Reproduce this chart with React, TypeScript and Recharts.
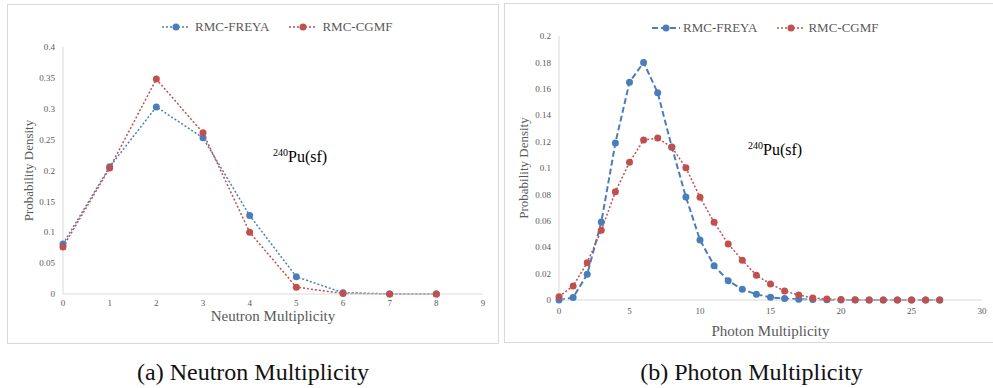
import React from 'react';
import { LineChart, Line, XAxis, YAxis, Legend, Label } from 'recharts';

// ---------- data ----------
const neutronMult = [0, 1, 2, 3, 4, 5, 6, 7, 8];
const neutronFreya = [0.081, 0.206, 0.303, 0.253, 0.127, 0.028, 0.002, 0.0002, 0.0];
const neutronCgmf = [0.076, 0.204, 0.348, 0.261, 0.1, 0.011, 0.001, 0.0001, 0.0];
const neutronXTicks = [0, 1, 2, 3, 4, 5, 6, 7, 8, 9];
const neutronYTicks = [0, 0.05, 0.1, 0.15, 0.2, 0.25, 0.3, 0.35, 0.4];

const photonMult = [0, 1, 2, 3, 4, 5, 6, 7, 8, 9, 10, 11, 12, 13, 14, 15, 16, 17, 18, 19, 20, 21, 22, 23, 24, 25, 26, 27];
const photonFreya = [0.0, 0.0018, 0.0195, 0.059, 0.119, 0.165, 0.18, 0.157, 0.116, 0.078, 0.0455, 0.026, 0.0146, 0.0081, 0.0043, 0.002, 0.0011, 0.0006, 0.0003, 0.0001, 0, 0, 0, 0, 0, 0, 0, 0];
const photonCgmf = [0.0025, 0.0106, 0.0283, 0.0528, 0.082, 0.1043, 0.1212, 0.1227, 0.1157, 0.1002, 0.0778, 0.0589, 0.0424, 0.0301, 0.0187, 0.0121, 0.0068, 0.0038, 0.0015, 0.0008, 0.0003, 0.0001, 0, 0, 0, 0, 0, 0];
const photonXTicks = [0, 5, 10, 15, 20, 25, 30];
const photonYTicks = [0, 0.02, 0.04, 0.06, 0.08, 0.1, 0.12, 0.14, 0.16, 0.18, 0.2];

const seriesNames = ['RMC-FREYA', 'RMC-CGMF'];
const captions = ['(a) Neutron Multiplicity', '(b) Photon Multiplicity'];
const xTitles = ['Neutron Multiplicity', 'Photon Multiplicity'];
const yTitle = 'Probability Density';

// ---------- styles ----------
const FONT = '"Liberation Serif"';
const GRAY = '#595959';
const AXIS = '#d9d9d9';
const BLUE = '#4a7ebb';
const RED = '#c0504d';

const neutronData = neutronMult.map((x, i) => ({ x, freya: neutronFreya[i], cgmf: neutronCgmf[i] }));
const photonData = photonMult.map((x, i) => ({ x, freya: photonFreya[i], cgmf: photonCgmf[i] }));

type LegendItem = { name: string; color: string; dash: string; width: number };

const LegendIcon = ({ color, dash, width }: LegendItem) => (
  <svg width={28} height={10} style={{ display: 'block' }}>
    <line x1={0} y1={5} x2={28} y2={5} stroke={color} strokeWidth={width} strokeDasharray={dash} />
    <circle cx={14} cy={5} r={3.5} fill={color} />
  </svg>
);

const makeLegend = (items: LegendItem[], padLeft: number, textGap: number) => () => (
  <div style={{ display: 'flex', alignItems: 'center', height: 20, paddingLeft: padLeft, fontFamily: FONT, fontSize: 13, color: GRAY }}>
    {items.map((it, i) => (
      <div key={it.name} style={{ display: 'flex', alignItems: 'center', marginLeft: i === 0 ? 0 : 20 }}>
        <LegendIcon {...it} />
        <span style={{ marginLeft: textGap, whiteSpace: 'nowrap', fontFamily: FONT }}>{it.name}</span>
      </div>
    ))}
  </div>
);

const YTitle = (dx: number) => (props: any) => {
  const vb = props.viewBox || { x: 0, y: 0, width: 0, height: 0 };
  const cx = vb.x + dx;
  const cy = vb.y + vb.height / 2;
  return (
    <text x={cx} y={cy} transform={`rotate(-90 ${cx} ${cy})`} textAnchor="middle" dominantBaseline="central"
      style={{ fontFamily: FONT }} fontSize={13} fill={GRAY}>{yTitle}</text>
  );
};

const XTitle = (text: string, dy: number) => (props: any) => {
  const vb = props.viewBox || { x: 0, y: 0, width: 0, height: 0 };
  const cx = vb.x + vb.width / 2;
  const cy = vb.y + dy;
  return (
    <text x={cx} y={cy} textAnchor="middle" dominantBaseline="central" style={{ fontFamily: FONT }} fontSize={15} fill={GRAY}>{text}</text>
  );
};

const tickStyle = { fontFamily: FONT, fontSize: 9, fill: GRAY, style: { fontFamily: FONT } };

const Annotation = ({ left, top }: { left: number; top: number }) => (
  <div style={{ position: 'absolute', left, top, fontFamily: FONT, fontSize: 16, color: '#000', whiteSpace: 'nowrap', lineHeight: '18px' }}>
    <sup style={{ fontSize: 10, lineHeight: 0 }}>240</sup>Pu(sf)
  </div>
);

const panelBorder = (left: number, top: number, width: number, height: number): React.CSSProperties => ({
  position: 'absolute', left, top, width, height, border: `1px solid ${AXIS}`, boxSizing: 'border-box',
});

export default function App() {
  const leftLegend = makeLegend([
    { name: seriesNames[0], color: BLUE, dash: '2 2', width: 1.5 },
    { name: seriesNames[1], color: RED, dash: '2 2', width: 1.5 },
  ], 155, 5);
  const rightLegend = makeLegend([
    { name: seriesNames[0], color: BLUE, dash: '6 3', width: 2 },
    { name: seriesNames[1], color: RED, dash: '2 2', width: 1.5 },
  ], 148, 3);

  return (
    <div style={{ position: 'absolute', left: 0, top: 0, width: 993, height: 388, background: '#fff', overflow: 'hidden', fontFamily: FONT }}>
      <div style={panelBorder(7, 4, 492, 340)} />
      <div style={panelBorder(504, 3, 500, 340)} />

      {/* Left: neutron */}
      <div style={{ position: 'absolute', left: 7, top: 4 }}>
        <LineChart width={491} height={339} data={neutronData} margin={{ top: 43, right: 15, left: 0, bottom: 19 }} style={{ fontFamily: FONT }}>
          <XAxis dataKey="x" type="number" domain={[0, 9]} ticks={neutronXTicks} interval={0}
            stroke={AXIS} tickLine={false} tickSize={0} tickMargin={6} tick={tickStyle} height={30}>
            <Label content={XTitle(xTitles[0], 22)} />
          </XAxis>
          <YAxis type="number" domain={[0, 0.4]} ticks={neutronYTicks} interval={0}
            stroke={AXIS} tickLine={false} tickSize={0} tickMargin={8} tick={tickStyle} width={56}>
            <Label content={YTitle(21)} />
          </YAxis>
          <Legend verticalAlign="middle" align="center" wrapperStyle={{ top: 13, left: 0, width: 491, height: 20 }} content={leftLegend} />
          <Line dataKey="freya" name={seriesNames[0]} stroke={BLUE} strokeWidth={1.5} strokeDasharray="2 2"
            dot={{ r: 3.5, fill: BLUE, stroke: BLUE, strokeWidth: 0 }} isAnimationActive={false} />
          <Line dataKey="cgmf" name={seriesNames[1]} stroke={RED} strokeWidth={1.5} strokeDasharray="2 2"
            dot={{ r: 3.5, fill: RED, stroke: RED, strokeWidth: 0 }} isAnimationActive={false} />
        </LineChart>
      </div>
      <Annotation left={273} top={148} />

      {/* Right: photon */}
      <div style={{ position: 'absolute', left: 504, top: 3 }}>
        <LineChart width={495} height={340} data={photonData} margin={{ top: 33, right: 17, left: 0, bottom: 13 }} style={{ fontFamily: FONT }}>
          <XAxis dataKey="x" type="number" domain={[0, 30]} ticks={photonXTicks} interval={0}
            stroke={AXIS} tickLine={false} tickSize={0} tickMargin={8} tick={tickStyle} height={30}>
            <Label content={XTitle(xTitles[1], 31)} />
          </XAxis>
          <YAxis type="number" domain={[0, 0.2]} ticks={photonYTicks} interval={0}
            stroke={AXIS} tickLine={false} tickSize={0} tickMargin={8} tick={tickStyle} width={55}>
            <Label content={YTitle(19)} />
          </YAxis>
          <Legend verticalAlign="middle" align="center" wrapperStyle={{ top: 15, left: 0, width: 495, height: 20 }} content={rightLegend} />
          <Line dataKey="freya" name={seriesNames[0]} stroke={BLUE} strokeWidth={2} strokeDasharray="6 3"
            dot={{ r: 3.5, fill: BLUE, stroke: BLUE, strokeWidth: 0 }} isAnimationActive={false} />
          <Line dataKey="cgmf" name={seriesNames[1]} stroke={RED} strokeWidth={1.5} strokeDasharray="2 2"
            dot={{ r: 3.5, fill: RED, stroke: RED, strokeWidth: 0 }} isAnimationActive={false} />
        </LineChart>
      </div>
      <Annotation left={748} top={141} />

      <div style={{ position: 'absolute', left: 7, width: 492, top: 358, textAlign: 'center', fontFamily: FONT, fontSize: 24, lineHeight: '28px', color: '#111' }}>{captions[0]}</div>
      <div style={{ position: 'absolute', left: 504, width: 495, top: 358, textAlign: 'center', fontFamily: FONT, fontSize: 24, lineHeight: '28px', color: '#111' }}>{captions[1]}</div>
    </div>
  );
}
